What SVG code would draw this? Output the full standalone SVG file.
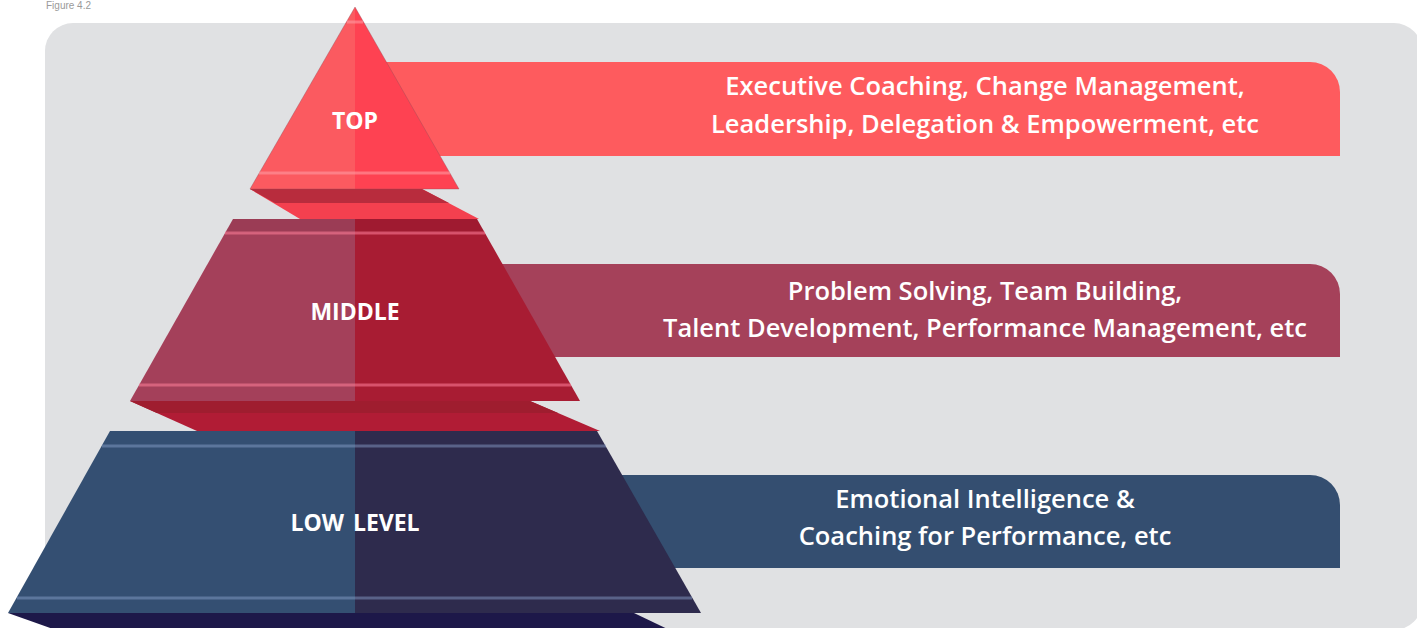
<svg xmlns="http://www.w3.org/2000/svg" width="1417" height="628" viewBox="0 0 1417 628">
  <style>
    .cap { font-family: "Open Sans", "Liberation Sans", sans-serif; font-weight: 600; font-size: 25.5px; fill: #ffffff; text-anchor: middle; }
    .tier { font-family: "Open Sans", "Liberation Sans", sans-serif; font-weight: 700; font-size: 23px; fill: #ffffff; text-anchor: middle; }
    .fig { font-family: "Liberation Sans", sans-serif; font-size: 10px; fill: #9a9a9a; }
    .hl { stroke-width: 3; fill: none; }
  </style>

  <!-- backdrop panel -->
  <text class="fig" x="46" y="9">Figure 4.2</text>
  <rect x="45" y="23" width="1377" height="607" rx="28" fill="#e0e1e3"/>

  <!-- top tier -->
  <g id="tier-top">
    <path d="M360,62 H1310 A30,30 0 0 1 1340,92 V156 H360 Z" fill="#fe5b5e"/>
    <text class="cap" x="985" y="95">Executive Coaching, Change Management,</text>
    <text class="cap" x="985" y="133">Leadership, Delegation &amp; Empowerment, etc</text>
    <!-- under face -->
    <polygon points="250,189 422,189 479,219 300,219" fill="#f4404f"/>
    <polygon points="250,189 422,189 449,203 275,203" fill="#b82c3d"/>
    <!-- faces -->
    <polygon points="355,7 250,189 355,189" fill="#fb5a60"/>
    <polygon points="355,7 355,189 459,189" fill="#fe4252"/>
    <polygon points="355,7 250,189 459,189" fill="none" stroke="#8a4a55" stroke-opacity="0.35" stroke-width="1"/>
    <line class="hl" x1="259" y1="173" x2="450" y2="173" stroke="#ff9aa2" stroke-opacity="0.6"/>
    <line class="hl" x1="347" y1="22" x2="363" y2="22" stroke="#ff9aa2" stroke-opacity="0.6"/>
    <text class="tier" x="355" y="129">TOP</text>
  </g>

  <!-- middle tier -->
  <g id="tier-middle">
    <path d="M360,264 H1310 A30,30 0 0 1 1340,294 V357 H360 Z" fill="#a5415a"/>
    <text class="cap" x="985" y="300">Problem Solving, Team Building,</text>
    <text class="cap" x="985" y="337">Talent Development, Performance Management, etc</text>
    <!-- under face -->
    <polygon points="130,401 530,401 600,431 197,431" fill="#b11c35"/>
    <polygon points="130,401 530,401 558,413 157,413" fill="#9f1d2f"/>
    <!-- faces -->
    <polygon points="233,219 355,219 355,401 130,401" fill="#a4405a"/>
    <polygon points="355,219 477,219 580,401 355,401" fill="#a81c33"/>
    <polygon points="233,219 477,219 485,233 225,233" fill="#000000" fill-opacity="0.05"/>
    <line class="hl" x1="225" y1="233" x2="485" y2="233" stroke="#ff7f9b" stroke-opacity="0.55"/>
    <line class="hl" x1="139" y1="385" x2="571" y2="385" stroke="#ff7f9b" stroke-opacity="0.55"/>
    <text class="tier" x="355" y="320">MIDDLE</text>
  </g>

  <!-- low tier -->
  <g id="tier-low">
    <path d="M360,475 H1310 A30,30 0 0 1 1340,505 V568 H360 Z" fill="#344e70"/>
    <text class="cap" x="985" y="508">Emotional Intelligence &amp;</text>
    <text class="cap" x="985" y="545">Coaching for Performance, etc</text>
    <!-- under face -->
    <polygon points="8,613 634,613 680,635 70,635" fill="#1d1849"/>
    <!-- faces -->
    <polygon points="110,431 355,431 355,613 8,613" fill="#344f72"/>
    <polygon points="355,431 597,431 701,613 355,613" fill="#2e2b4d"/>
    <line class="hl" x1="102" y1="446" x2="606" y2="446" stroke="#8fa6d0" stroke-opacity="0.45"/>
    <line class="hl" x1="17" y1="598" x2="692" y2="598" stroke="#8fa6d0" stroke-opacity="0.45"/>
    <text class="tier" x="355" y="531" word-spacing="3">LOW LEVEL</text>
  </g>

  <!-- no connectors in this figure -->
  <g id="connectors"/>
</svg>
